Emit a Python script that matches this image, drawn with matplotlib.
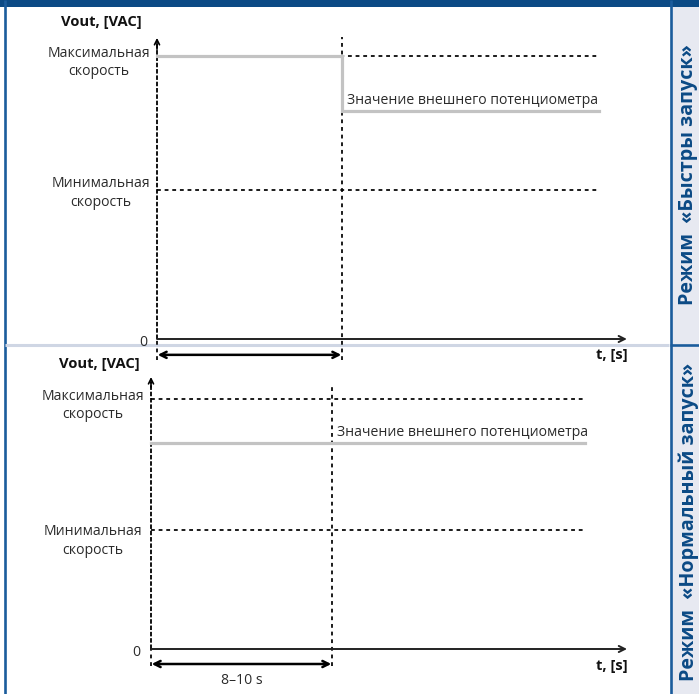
import matplotlib
matplotlib.use("Agg")
import matplotlib.pyplot as plt
from matplotlib.patches import Rectangle

plt.rcParams['font.family'] = ['Open Sans', 'DejaVu Sans']

# ---------------- data ----------------
panel_titles = ["Режим  «Быстры запуск»", "Режим  «Нормальный запуск»"]
y_axis_label = "Vout, [VAC]"
x_axis_label = "t, [s]"
level_labels = ["Максимальная\nскорость", "Минимальная\nскорость"]
pot_label = "Значение внешнего потенциометра"
interval_label = "8–10 s"

t_switch = 10.0          # end of start phase, s
t_end_top = 23.9         # end of drawn levels, s
t_end_bottom = 24.0
t_axis_top = 25.4
t_axis_bottom = 26.3

v_max = 100.0
v_min_top = 52.5
v_pot_top = 80.5
v_min_bottom = 47.5
v_pot_bottom = 82.4

# top: fast start – output at max until t_switch, then potentiometer value
fast_t = [0.0, t_switch, t_switch, t_end_top]
fast_v = [v_max, v_max, v_pot_top, v_pot_top]
# bottom: normal start – output at potentiometer value all the time
norm_t = [0.0, t_end_bottom]
norm_v = [v_pot_bottom, v_pot_bottom]

W, H = 699, 694
fig = plt.figure(figsize=(W / 100, H / 100), dpi=100)
fig.patch.set_facecolor('white')

BLUE_DARK = '#0b4a85'
BLUE = '#1b5c9c'
TXT = '#2a2a2a'
GRAY = '#c3c3c3'
FS = 10.1
FSB = 10.6

# ---------- frame decoration (pixel coords) ----------
bg = fig.add_axes([0, 0, 1, 1])
bg.set_xlim(0, W)
bg.set_ylim(H, 0)
bg.axis('off')
bg.add_patch(Rectangle((671, 0), W - 671, H, facecolor='#e7e9f1', edgecolor='none'))
bg.add_patch(Rectangle((0, 0), W, 6.5, facecolor=BLUE_DARK, edgecolor='none'))
bg.plot([4.5, 4.5], [0, H], color=BLUE, lw=1.9, solid_capstyle='butt')
bg.plot([670.5, 670.5], [0, H], color=BLUE, lw=1.9, solid_capstyle='butt')
bg.plot([5, 669], [345, 345], color='#cfd6e4', lw=2.2, solid_capstyle='butt')
bg.plot([670, W], [344.5, 344.5], color=BLUE, lw=1.9, solid_capstyle='butt')
bg.text(688.5, 175, panel_titles[0], rotation=90, ha='center', va='center',
        fontsize=14.2, fontweight='bold', color=BLUE_DARK)
bg.text(688.5, 522, panel_titles[1], rotation=90, ha='center', va='center',
        fontsize=14.2, fontweight='bold', color=BLUE_DARK)


def make_ax(px0, px1, py0, py1, ox, oy, sx, sy):
    ax = fig.add_axes([px0 / W, 1 - py1 / H, (px1 - px0) / W, (py1 - py0) / H])
    ax.set_xlim((px0 - ox) / sx, (px1 - ox) / sx)
    ax.set_ylim((oy - py1) / sy, (oy - py0) / sy)
    ax.axis('off')
    return ax


def draw_panel(ax, t_vals, v_vals, v_min, v_pot, t_lines_end, t_axis_end,
               y_top, vline_top, vline_bot, arrow_v, lab_offsets, pot_off,
               show_interval, zero_off, vout_off, ts_off):
    dot = dict(color='black', lw=1.25, dashes=(2.2, 2.2), clip_on=False)
    # horizontal guide lines
    ax.plot([0, t_lines_end], [v_max, v_max], **dot)
    ax.plot([0, t_lines_end], [v_min, v_min], **dot)
    # vertical guide at t_switch
    ax.plot([t_switch, t_switch], [vline_bot, vline_top], **dot)
    # dotted extension of y axis below origin
    ax.plot([0, 0], [vline_bot, 0], **dot)
    # y axis (dense dashed) with arrow
    ax.plot([0, 0], [0, y_top - 2], color='black', lw=1.3, dashes=(2.5, 1.0), clip_on=False)
    ax.annotate('', xy=(0, y_top), xytext=(0, y_top - 4),
                arrowprops=dict(arrowstyle='->', lw=1.2, color='black',
                                shrinkA=0, shrinkB=0, mutation_scale=9))
    # x axis with arrow
    ax.annotate('', xy=(t_axis_end, 0), xytext=(0, 0),
                arrowprops=dict(arrowstyle='->', lw=1.4, color='#222222',
                                shrinkA=0, shrinkB=0, mutation_scale=11))
    # output signal
    ax.plot(t_vals, v_vals, color=GRAY, lw=2.3, solid_joinstyle='miter', zorder=3)
    # interval arrow
    ax.annotate('', xy=(t_switch, arrow_v), xytext=(0, arrow_v),
                arrowprops=dict(arrowstyle='<->', lw=1.8, color='black',
                                shrinkA=0.5, shrinkB=0.5, mutation_scale=11))
    if show_interval:
        ax.annotate(interval_label, xy=(t_switch / 2, arrow_v), xytext=(0, -16),
                    textcoords='offset pixels', ha='center', va='center',
                    fontsize=FS, color=TXT)
    # level labels
    for lab, lev, (dx, dy) in zip(level_labels, [v_max, v_min], lab_offsets):
        ax.annotate(lab, xy=(0, lev), xytext=(dx, dy), textcoords='offset pixels',
                    ha='center', va='top', multialignment='center',
                    fontsize=FS, color=TXT, linespacing=1.3)
    ax.annotate(pot_label, xy=(t_switch, v_pot), xytext=pot_off,
                textcoords='offset pixels', ha='left', va='bottom',
                fontsize=FS, color=TXT)
    ax.annotate('0', xy=(0, 0), xytext=zero_off, textcoords='offset pixels',
                ha='center', va='center', fontsize=FS, color=TXT)
    ax.annotate(y_axis_label, xy=(0, y_top), xytext=vout_off, textcoords='offset pixels',
                ha='center', va='center', fontsize=FSB, fontweight='bold', color='#111111')
    ax.annotate(x_axis_label, xy=(t_axis_end, 0), xytext=ts_off, textcoords='offset pixels',
                ha='right', va='center', fontsize=FSB, fontweight='bold', color='#111111')


# top panel: origin (157, 339), 18.5 px/s, 2.83 px/unit
ax1 = make_ax(100, 640, 20, 372, 157, 339, 18.5, 2.83)
draw_panel(ax1, fast_t, fast_v, v_min_top, v_pot_top, t_end_top, t_axis_top,
           y_top=106.4, vline_top=106.8, vline_bot=-7.4, arrow_v=-5.6,
           lab_offsets=[(-58, 10), (-56, 14)], pot_off=(5, 3), show_interval=False,
           zero_off=(-14, -4), vout_off=(-56, 16), ts_off=(1, -16))

# bottom panel: origin (151, 649), 18.1 px/s, 2.5 px/unit
ax2 = make_ax(90, 640, 350, 690, 151, 649, 18.1, 2.5)
draw_panel(ax2, norm_t, norm_v, v_min_bottom, v_pot_bottom, t_end_bottom, t_axis_bottom,
           y_top=108.8, vline_top=105.6, vline_bot=-6.8, arrow_v=-6.0,
           lab_offsets=[(-58, 10), (-58, 6)], pot_off=(5, 3), show_interval=True,
           zero_off=(-15, -4), vout_off=(-52, 13), ts_off=(1, -17))

fig.savefig('out.png', dpi=100)
